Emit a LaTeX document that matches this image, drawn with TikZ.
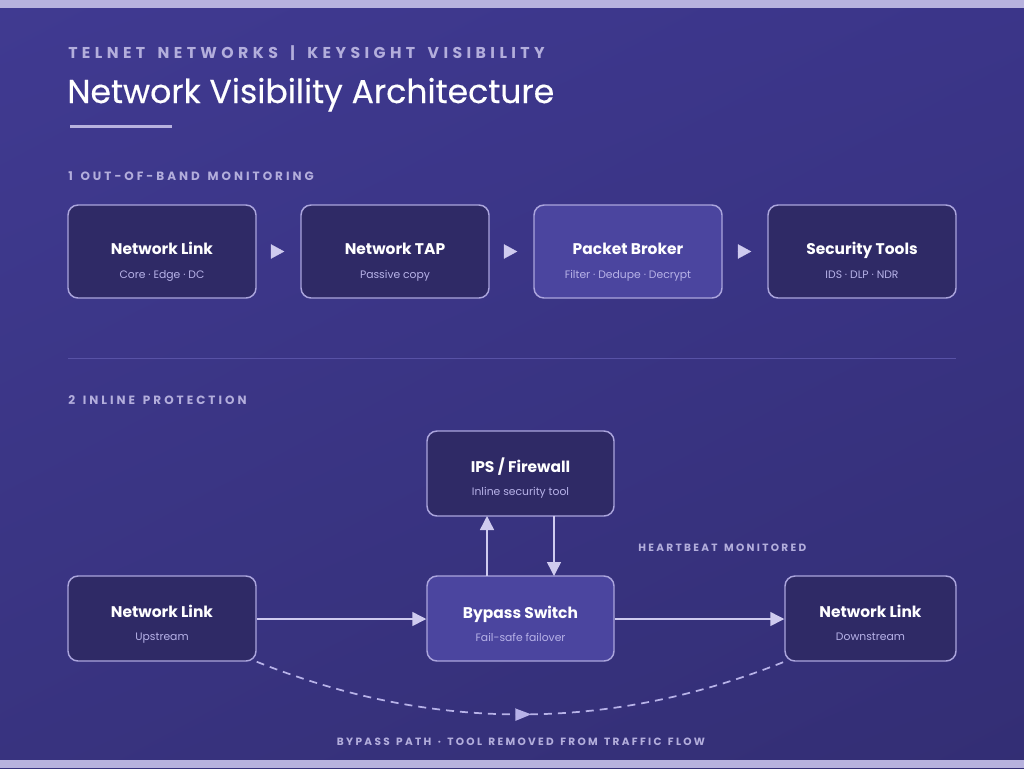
\documentclass[tikz,border=0pt]{standalone}
\usepackage{fontspec}
\setmainfont{Poppins}
\newfontfamily\titlefont{Poppins}[FakeBold=0.4]
\newfontfamily\spacedfont{Poppins}[LetterSpace=28,WordSpace=1.6]
\newfontfamily\spacedmid{Poppins}[LetterSpace=25,WordSpace=1.4]
\newfontfamily\spacedsmall{Poppins}[LetterSpace=22,WordSpace=1.4]
\usetikzlibrary{arrows.meta,decorations.markings,calc,shadings}
\definecolor{bgUL}{HTML}{403A91}
\definecolor{bgUR}{HTML}{3B3589}
\definecolor{bgLL}{HTML}{38337F}
\definecolor{bgLR}{HTML}{332E74}
\definecolor{band}{HTML}{B7B2DE}
\definecolor{boxdark}{HTML}{2F2A66}
\definecolor{boxhi}{HTML}{4B459F}
\definecolor{boxline}{HTML}{ABA5DD}
\definecolor{subtxt}{HTML}{B7B2E8}
\definecolor{labeltxt}{HTML}{B3AEDC}
\definecolor{conn}{HTML}{CFCBEF}
\definecolor{divider}{HTML}{5852A6}
\tikzset{
  card/.style={draw=boxline, line width=1.1pt, rounded corners=7.5pt, inner sep=0pt, fill=boxdark},
  cardhi/.style={card, fill=boxhi},
  wide/.style={minimum width=141pt},
  tall/.style={minimum height=69.75pt},
  short/.style={minimum height=63.75pt},
  ttl/.style={anchor=base, text=white, font=\fontsize{11.6}{13}\selectfont\bfseries},
  sub/.style={anchor=base, text=subtxt, font=\fontsize{8.1}{10}\selectfont},
  flowtip/.style={draw=conn, fill=conn, line width=0.2pt, -{Triangle[length=10pt,width=10.8pt]}, shorten <=11.25pt, shorten >=12pt},
  link/.style={draw=conn, line width=1.1pt, -{Triangle[length=10.5pt,width=10.5pt]}},
  seclabel/.style={anchor=base west, text=labeltxt, font=\spacedmid\bfseries\fontsize{9}{11}\selectfont},
  smalllabel/.style={text=labeltxt, inner sep=0pt, font=\spacedsmall\bfseries\fontsize{7.9}{10}\selectfont},
}
\begin{document}
\begin{tikzpicture}[x=0.75pt,y=-0.75pt]
\useasboundingbox (0,0) rectangle (1024,768);
% background
\shade[upper left=bgUL, upper right=bgUR, lower left=bgLL, lower right=bgLR] (0,0) rectangle (1024,768);
\fill[band] (0,0) rectangle (1024,8);
\fill[band] (0,760) rectangle (1024,768);

% header
\node[anchor=base west, text=labeltxt, inner sep=0pt, font=\spacedfont\bfseries\fontsize{11.8}{14}\selectfont] (hdr) at (68,58.5) {TELNET NETWORKS | KEYSIGHT VISIBILITY};
\node[anchor=base west, text=white, inner sep=0pt, font=\titlefont\fontsize{24.8}{29}\selectfont] (title) at (67,103) {Network Visibility Architecture};
\fill[band] (70,124.5) rectangle (172,127.5);

% section 1
\node[seclabel, inner sep=0pt] (s1) at (68,180) {1 OUT-OF-BAND MONITORING};
\node[card, wide, tall] (b1) at (162,251.5) {};
\node[card, wide, tall] (b2) at (395,251.5) {};
\node[cardhi, wide, tall] (b3) at (628,251.5) {};
\node[card, wide, tall] (b4) at (862,251.5) {};
\node[ttl] (b1t) at (162,254) {Network Link};
\node[sub] (b1s) at (162,278) {Core · Edge · DC};
\node[ttl] (b2t) at (395,254) {Network TAP};
\node[sub] (b2s) at (395,278) {Passive copy};
\node[ttl] (b3t) at (628,254) {Packet Broker};
\node[sub] (b3s) at (628,278) {Filter · Dedupe · Decrypt};
\node[ttl] (b4t) at (862,254) {Security Tools};
\node[sub] (b4s) at (862,278) {IDS · DLP · NDR};
\draw[flowtip] (b1.east) -- (b2.west);
\draw[flowtip] (b2.east) -- (b3.west);
\draw[flowtip] (b3.east) -- (b4.west);

% divider
\draw[divider, line width=0.75pt] (68,358) -- (956,358);

% section 2
\node[seclabel, inner sep=0pt] (s2) at (68,404) {2 INLINE PROTECTION};
\node[card, minimum width=140.25pt, short] (ips) at (520.5,473.5) {};
\node[ttl] (ipst) at (520.5,472) {IPS / Firewall};
\node[sub] (ipss) at (520.5,495) {Inline security tool};
\node[cardhi, minimum width=140.25pt, short] (byp) at (520.5,618.5) {};
\node[ttl] (bypt) at (520.5,618) {Bypass Switch};
\node[sub] (byps) at (520.5,641) {Fail-safe failover};
\node[card, wide, short] (up) at (162,618.5) {};
\node[ttl] (upt) at (162,617) {Network Link};
\node[sub] (ups) at (162,640) {Upstream};
\node[card, minimum width=128.25pt, short] (dn) at (870.5,618.5) {};
\node[ttl] (dnt) at (870.5,617) {Network Link};
\node[sub] (dns) at (870.5,640) {Downstream};

\node[smalllabel, anchor=base west] (hb) at (638,551) {HEARTBEAT MONITORED};

\coordinate (bu) at (487,576);
\coordinate (iu) at (487,516);
\coordinate (id) at (554,516);
\coordinate (bd) at (554,576);
\draw[link] (bu) -- (iu);
\draw[link] (id) -- (bd);
\draw[link] (up.east |- 0,619) -- (byp.west |- 0,619);
\draw[link] (byp.east |- 0,619) -- (dn.west |- 0,619);

% bypass path
\draw[draw=subtxt, line width=1.3pt, dash pattern=on 6pt off 4.5pt,
  decoration={markings, mark=at position 0.52 with {\arrow{Triangle[length=12pt,width=9pt]}}},
  postaction={decorate}]
  (up.south east) .. controls (432,732) and (609,732) .. (dn.south west);
\node[smalllabel, anchor=base] (bp) at (521,745) {BYPASS PATH · TOOL REMOVED FROM TRAFFIC FLOW};
\end{tikzpicture}
\end{document}
